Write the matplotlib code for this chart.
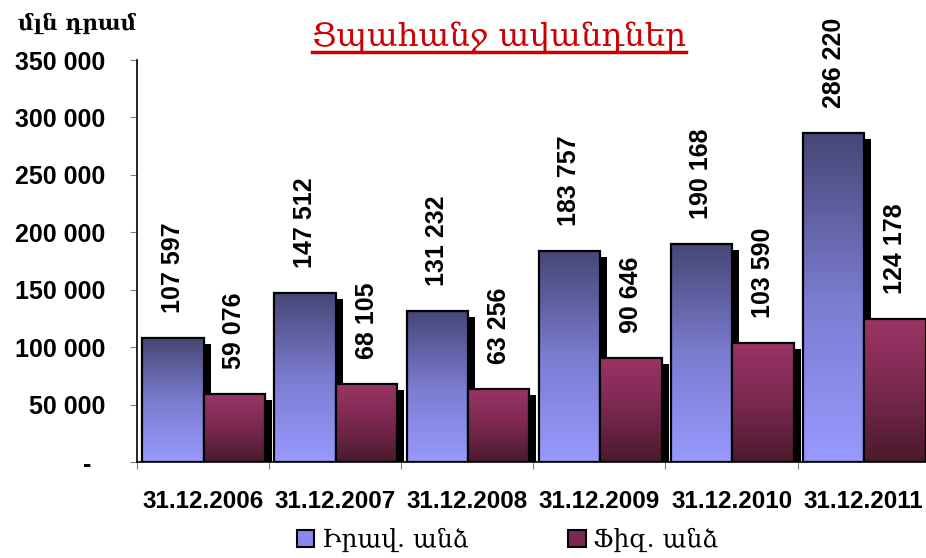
import numpy as np
import matplotlib
matplotlib.use('Agg')
import matplotlib.pyplot as plt
from matplotlib.colors import LinearSegmentedColormap
from matplotlib.patches import Patch
from matplotlib.lines import Line2D

plt.rcParams['font.family'] = ['Liberation Sans', 'DejaVu Sans']

# Data
dates = ['31.12.2006', '31.12.2007', '31.12.2008', '31.12.2009', '31.12.2010', '31.12.2011']
legal = [107597, 147512, 131232, 183757, 190168, 286220]
physical = [59076, 68105, 63256, 90646, 103590, 124178]
series_names = ['Իրավ. անձ', 'Ֆիզ. անձ']
title = 'Ցպահանջ ավանդներ'
unit = 'մլն դրամ'
yticks = [0, 50000, 100000, 150000, 200000, 250000, 300000, 350000]

# gradients: bottom colour -> top colour
blue_cmap = LinearSegmentedColormap.from_list('b', ['#9999ff', '#7b7bd0', '#464676'])
red_cmap = LinearSegmentedColormap.from_list('r', ['#4a1a2c', '#7a2850', '#9a3466'])

fig = plt.figure(figsize=(9.26, 5.58), dpi=100)
ax = fig.add_axes([0.148, 0.172, 0.856, 0.7204])

width = 0.465
# shadow offset: 7 px right, 6 px down
dx = 7 / (0.856 * 926 / 6)
dy = 6 / (0.7204 * 558 / 350000)
grad = np.linspace(0, 1, 256).reshape(-1, 1)

x = np.arange(len(dates))
for vals, offs, cmap, z in [(legal, 0.04, blue_cmap, 3), (physical, 0.505, red_cmap, 5)]:
    lefts = x + offs
    # shadows
    ax.bar(lefts + dx, np.array(vals) - dy, width=width, align='edge',
           color='black', zorder=z - 2)
    for l, v in zip(lefts, vals):
        ax.imshow(grad, extent=[l, l + width, 0, v], origin='lower', cmap=cmap,
                  aspect='auto', zorder=z, interpolation='bilinear')
        ax.annotate(f'{v:,}'.replace(',', ' '), (l + width / 2, v),
                    xytext=(0, 18), textcoords='offset points', rotation=90,
                    ha='center', va='bottom', fontsize=18, fontweight='bold',
                    zorder=10)
    ax.bar(lefts, vals, width=width, align='edge', facecolor='none',
           edgecolor='black', linewidth=1.6, zorder=z + 0.5)

ax.set_xlim(0, 6)
ax.set_ylim(0, 350000)

for s in ['top', 'right']:
    ax.spines[s].set_visible(False)
ax.spines['left'].set_linewidth(1.2)
ax.spines['bottom'].set_linewidth(1.2)

ax.set_yticks(yticks)
ax.set_yticklabels(['-  ' if v == 0 else f'{v:,}'.replace(',', ' ') for v in yticks],
                   fontsize=18, fontweight='bold')
ax.tick_params(axis='y', length=5, color='#808080', pad=18)

ax.set_xticks(np.arange(7))
ax.set_xticklabels([])
ax.set_xticks(x + 0.5, minor=True)
ax.set_xticklabels(dates, minor=True, fontsize=17.5, fontweight='bold')
ax.tick_params(axis='x', which='major', length=5, color='#808080')
ax.tick_params(axis='x', which='minor', length=0, pad=20)

# unit label and title
fig.text(0.083, 0.958, unit, ha='center', va='center', fontsize=15.5,
         family='DejaVu Serif', fontweight='bold')
t = fig.text(0.539, 0.918, title, ha='center', va='baseline', fontsize=23.4,
             color='#cc0000', family='DejaVu Serif')
fig.canvas.draw()
bb = t.get_window_extent(fig.canvas.get_renderer()).transformed(fig.transFigure.inverted())
fig.add_artist(Line2D([bb.x0, bb.x1], [0.907, 0.907], color='#cc0000', lw=2.5))

handles = [Patch(facecolor='#8888ee', edgecolor='black', linewidth=1.5),
           Patch(facecolor='#7a2850', edgecolor='black', linewidth=1.5)]
fig.legend(handles, series_names, loc='center', bbox_to_anchor=(0.548, 0.032),
           ncol=2, frameon=False, handlelength=0.7, handleheight=0.7,
           handletextpad=0.3, columnspacing=4.0,
           prop={'family': 'DejaVu Serif', 'size': 18})

fig.savefig('out.png', dpi=100)
